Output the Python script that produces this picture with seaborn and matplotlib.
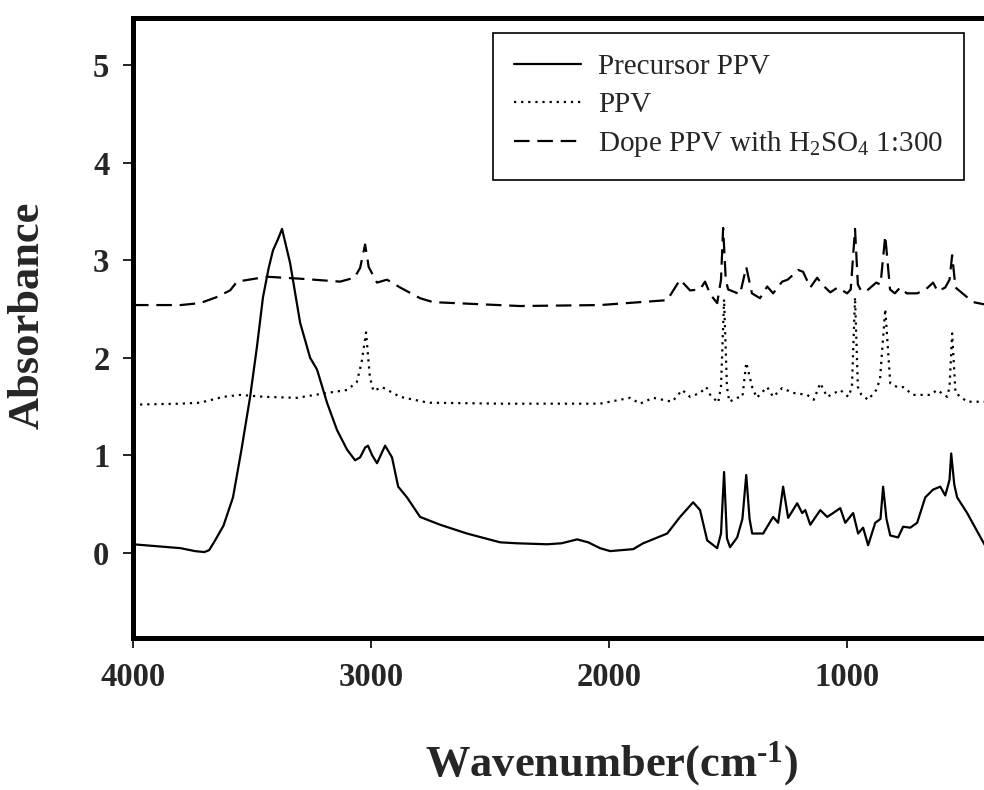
import matplotlib
matplotlib.use("Agg")
import matplotlib.pyplot as plt
import seaborn as sns
import pandas as pd

# ---- data (wavenumber cm-1, absorbance) ----
w_precursor = [4000, 3900, 3800, 3740, 3700, 3680, 3655, 3620, 3580, 3545, 3508, 3480, 3454, 3430,
               3412, 3390, 3374, 3340, 3298, 3256, 3227, 3185, 3143, 3101, 3067, 3046, 3025, 3013,
               2995, 2975, 2941, 2912, 2886, 2849, 2794, 2710, 2597, 2458, 2387, 2261, 2200, 2134,
               2088, 2038, 1996, 1899, 1857, 1756, 1702, 1647, 1618, 1588, 1546, 1530, 1517, 1505,
               1492, 1462, 1440, 1424, 1410, 1399, 1353, 1311, 1290, 1269, 1248, 1210, 1189, 1176,
               1155, 1113, 1084, 1059, 1029, 1008, 975, 954, 933, 912, 882, 860, 849, 835, 819, 786,
               765, 735, 706, 672, 639, 609, 588, 570, 563, 550, 538, 496, 460, 410]
a_precursor = [0.09, 0.07, 0.05, 0.02, 0.01, 0.03, 0.13, 0.28, 0.57, 1.05, 1.60, 2.10, 2.62, 2.92,
               3.10, 3.22, 3.32, 2.97, 2.36, 2.00, 1.88, 1.54, 1.26, 1.06, 0.95, 0.98, 1.08, 1.10,
               1.00, 0.92, 1.10, 0.98, 0.68, 0.57, 0.37, 0.29, 0.20, 0.11, 0.10, 0.09, 0.10, 0.14,
               0.11, 0.05, 0.02, 0.04, 0.10, 0.20, 0.37, 0.52, 0.44, 0.13, 0.05, 0.20, 0.83, 0.15,
               0.06, 0.16, 0.35, 0.80, 0.35, 0.20, 0.20, 0.37, 0.31, 0.68, 0.36, 0.51, 0.41, 0.44,
               0.29, 0.44, 0.37, 0.41, 0.46, 0.31, 0.41, 0.20, 0.26, 0.08, 0.31, 0.35, 0.68, 0.35,
               0.18, 0.16, 0.27, 0.26, 0.31, 0.57, 0.65, 0.68, 0.59, 0.75, 1.02, 0.70, 0.57, 0.41,
               0.25, 0.03]

w_ppv = [4000, 3800, 3718, 3620, 3550, 3450, 3311, 3185, 3101, 3060, 3040, 3021, 3005, 2990, 2954,
         2878, 2760, 2458, 2038, 1912, 1870, 1815, 1735, 1693, 1660, 1618, 1592, 1575, 1542, 1530,
         1517, 1505, 1495, 1462, 1440, 1424, 1399, 1380, 1336, 1311, 1273, 1227, 1168, 1140, 1113,
         1084, 1029, 995, 980, 967, 955, 940, 912, 878, 862, 840, 819, 790, 765, 723, 651, 622, 580,
         570, 559, 545, 496, 410]
a_ppv = [1.52, 1.53, 1.54, 1.60, 1.62, 1.60, 1.59, 1.64, 1.67, 1.75, 1.95, 2.26, 1.80, 1.66, 1.70,
         1.60, 1.54, 1.53, 1.53, 1.59, 1.53, 1.59, 1.55, 1.67, 1.60, 1.64, 1.70, 1.62, 1.54, 1.70,
         2.60, 1.70, 1.55, 1.59, 1.60, 1.95, 1.70, 1.59, 1.70, 1.60, 1.69, 1.64, 1.62, 1.57, 1.74,
         1.60, 1.67, 1.60, 1.70, 2.62, 1.70, 1.62, 1.57, 1.67, 1.78, 2.50, 1.74, 1.70, 1.70, 1.62,
         1.62, 1.67, 1.60, 1.70, 2.25, 1.64, 1.55, 1.55]

w_dope = [4000, 3800, 3718, 3650, 3592, 3563, 3437, 3298, 3130, 3070, 3046, 3025, 3010, 2975, 2933,
          2878, 2794, 2740, 2374, 2038, 1756, 1702, 1660, 1618, 1597, 1575, 1546, 1530, 1521, 1510,
          1500, 1470, 1450, 1424, 1400, 1366, 1336, 1311, 1273, 1250, 1227, 1206, 1185, 1155, 1126,
          1105, 1071, 1040, 1000, 985, 967, 955, 940, 916, 878, 860, 840, 820, 800, 777, 750, 706,
          670, 639, 620, 588, 570, 559, 545, 496, 470, 410]
a_dope = [2.54, 2.54, 2.56, 2.62, 2.69, 2.78, 2.83, 2.81, 2.78, 2.82, 2.92, 3.16, 2.93, 2.77, 2.80,
          2.72, 2.61, 2.57, 2.53, 2.54, 2.59, 2.80, 2.69, 2.70, 2.78, 2.65, 2.56, 2.80, 3.33, 2.80,
          2.70, 2.67, 2.65, 2.93, 2.66, 2.61, 2.73, 2.66, 2.78, 2.80, 2.85, 2.90, 2.88, 2.72, 2.82,
          2.75, 2.67, 2.72, 2.66, 2.70, 3.32, 2.75, 2.68, 2.69, 2.77, 2.75, 3.25, 2.70, 2.66, 2.72,
          2.66, 2.66, 2.70, 2.77, 2.68, 2.72, 2.80, 3.05, 2.72, 2.62, 2.57, 2.54]

labels = ["Precursor PPV", "PPV", "Dope PPV with H$_2$SO$_4$ 1:300"]
x_ticks = [4000, 3000, 2000, 1000]
y_ticks = [0, 1, 2, 3, 4, 5]

sns.set_style("ticks")
plt.rcParams["font.family"] = ["Liberation Serif", "DejaVu Serif"]
plt.rcParams["mathtext.default"] = "regular"
plt.rcParams["mathtext.fontset"] = "custom"
plt.rcParams["mathtext.rm"] = "Liberation Serif:bold"
plt.rcParams["axes.unicode_minus"] = False

fig = plt.figure(figsize=(9.84, 7.9), dpi=100)
W, H = 984, 790
ax = fig.add_axes([133 / W, (H - 638) / H, 857 / W, 620 / H])

df_pre = pd.DataFrame({"w": w_precursor, "a": a_precursor})
df_ppv = pd.DataFrame({"w": w_ppv, "a": a_ppv})
df_dope = pd.DataFrame({"w": w_dope, "a": a_dope})

sns.lineplot(data=df_pre, x="w", y="a", ax=ax, color="black", lw=1.6, label=labels[0], sort=False)
sns.lineplot(data=df_ppv, x="w", y="a", ax=ax, color="black", lw=1.6, label=labels[1], sort=False,
             linestyle=(0, (1, 2.2)))
sns.lineplot(data=df_dope, x="w", y="a", ax=ax, color="black", lw=1.6, label=labels[2], sort=False,
             linestyle=(0, (7, 3.5)))

ax.set_xlim(4000, 400)
ax.set_ylim(-0.87, 5.48)
ax.set_xticks(x_ticks)
ax.set_yticks(y_ticks)
ax.set_xticklabels([str(t) for t in x_ticks])
ax.set_yticklabels([str(t) for t in y_ticks])

for s in ax.spines.values():
    s.set_linewidth(3.6)
    s.set_color("black")

ax.tick_params(axis="both", direction="out", length=7, width=1.2, color="black",
               labelsize=23.5, pad=10)
for lab in ax.get_xticklabels() + ax.get_yticklabels():
    lab.set_fontweight("bold")

ax.set_xlabel(r"Wavenumber(cm$^{\text{-}1}$)", fontsize=32, fontweight="bold")
ax.set_ylabel("Absorbance", fontsize=32, fontweight="bold")
ax.xaxis.set_label_coords(0.559, -0.163)
ax.yaxis.set_label_coords(-0.10, 0.521)

leg = ax.legend(loc="upper left", bbox_to_anchor=(0.42, 0.976), borderaxespad=0,
                frameon=True, fancybox=False, framealpha=1, edgecolor="black",
                fontsize=21, handlelength=2.3, handletextpad=0.58, labelspacing=0.38,
                borderpad=0.72)
leg.get_frame().set_linewidth(1.2)

fig.savefig("out.png", dpi=100)
